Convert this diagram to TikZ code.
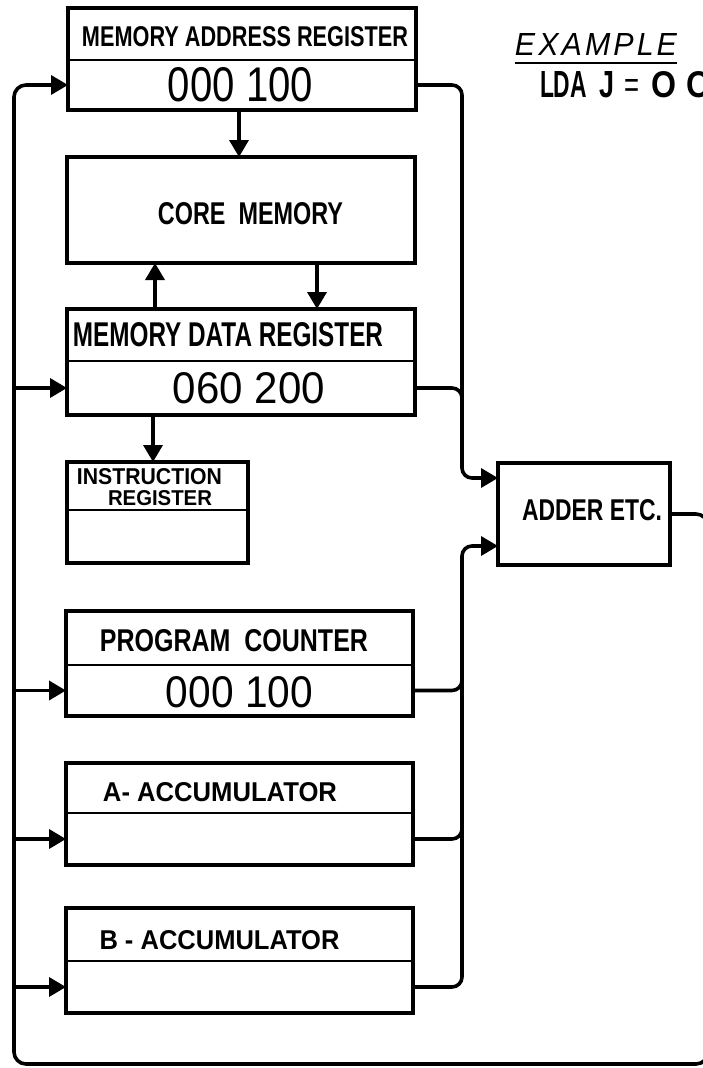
\documentclass[tikz,border=0pt]{standalone}
\usepackage{fontspec}
\setmainfont{Liberation Sans}
\newfontfamily\spacedfont{Liberation Sans}[LetterSpace=10]
\usetikzlibrary{arrows.meta}
% lettering scaled to an exact width and cap height (in pt)
\newcommand\fitto[3]{\resizebox{#1pt}{#2pt}{#3}}

\begin{document}
\begin{tikzpicture}[x=1pt,y=-1pt,
  bus/.style={line width=3.6pt, line join=round},
  arr/.style={-{Triangle[length=17pt,width=19pt]}},
  part/.style={inner sep=0pt, outer sep=0pt},
  boxline/.style={line width=3.4pt},
  divline/.style={line width=1.8pt},
  lbl/.style={inner sep=0pt, outer sep=0pt},
  uline/.style={line width=2.5pt}
]
\path[use as bounding box, clip] (0,0) rectangle (703,1068);
\fill[white] (0,0) rectangle (703,1068);

% ---------- memory address register ----------
\node[part, minimum width=348, minimum height=52] (mar-t) at (242,34) {};
\node[part, minimum width=348, minimum height=50] (mar-v) at (242,85) {};
\draw[boxline] (mar-t.north west) rectangle (mar-v.south east);
\draw[divline] (mar-v.north west) -- (mar-v.north east);
\node[lbl] (mar-name) at (245,37) {\fitto{326}{20}{\bfseries MEMORY ADDRESS REGISTER}};
\node[lbl] (mar-num) at (240.5,85) {\fitto{145}{34}{000 100}};

% ---------- core memory ----------
\node[part, draw, boxline, minimum width=348, minimum height=106] (core) at (241,210) {};
\node[lbl] (core-name) at (250.5,214) {\fitto{185}{22}{\bfseries CORE\ \ MEMORY}};

% ---------- memory data register ----------
\node[part, minimum width=348, minimum height=52] (mdr-t) at (241,335) {};
\node[part, minimum width=348, minimum height=54] (mdr-v) at (241,388) {};
\draw[boxline] (mdr-t.north west) rectangle (mdr-v.south east);
\draw[divline] (mdr-v.north west) -- (mdr-v.north east);
\node[lbl] (mdr-name) at (228,335) {\fitto{310}{24}{\bfseries MEMORY DATA REGISTER}};
\node[lbl] (mdr-num) at (249,388.5) {\fitto{152}{31}{060 200}};

% ---------- instruction register ----------
\node[part, minimum width=181, minimum height=48] (ir-t) at (157.5,486) {};
\node[part, minimum width=181, minimum height=53] (ir-v) at (157.5,536.5) {};
\draw[boxline] (ir-t.north west) rectangle (ir-v.south east);
\draw[divline] (ir-v.north west) -- (ir-v.north east);
\node[lbl] (ir-name1) at (149.5,476.5) {\fitto{145}{16}{\bfseries INSTRUCTION}};
\node[lbl] (ir-name2) at (160,498.5) {\fitto{104}{15}{\bfseries REGISTER}};

% ---------- adder ----------
\node[part, draw, boxline, minimum width=172, minimum height=102] (adder) at (584,514) {};
\node[lbl] (adder-name) at (592,510.5) {\fitto{140}{21}{\bfseries ADDER ETC.}};

% ---------- program counter ----------
\node[part, minimum width=347, minimum height=54] (pc-t) at (239.5,638) {};
\node[part, minimum width=347, minimum height=51] (pc-v) at (239.5,690.5) {};
\draw[boxline] (pc-t.north west) rectangle (pc-v.south east);
\draw[divline] (pc-v.north west) -- (pc-v.north east);
\node[lbl] (pc-name) at (234,641) {\fitto{268}{22}{\bfseries PROGRAM\ \ COUNTER}};
\node[lbl] (pc-num) at (239.5,692.5) {\fitto{147}{31}{000 100}};

% ---------- accumulators ----------
\node[part, minimum width=347, minimum height=50] (acca-t) at (239.5,788) {};
\node[part, minimum width=347, minimum height=52] (acca-v) at (239.5,839) {};
\draw[boxline] (acca-t.north west) rectangle (acca-v.south east);
\draw[divline] (acca-v.north west) -- (acca-v.north east);
\node[lbl] (acca-name) at (220,792) {\fitto{234}{19}{\bfseries A- ACCUMULATOR}};

\node[part, minimum width=347, minimum height=53] (accb-t) at (239.5,934.5) {};
\node[part, minimum width=347, minimum height=52] (accb-v) at (239.5,987) {};
\draw[boxline] (accb-t.north west) rectangle (accb-v.south east);
\draw[divline] (accb-v.north west) -- (accb-v.north east);
\node[lbl] (accb-name) at (219.5,940) {\fitto{240}{19}{\bfseries B - ACCUMULATOR}};

% ---------- example ----------
\node[lbl] (ex) at (596,44) {\fitto{162}{22}{\spacedfont\itshape EXAMPLE}};
\draw[uline] ([yshift=-8pt]ex.south west) -- ([yshift=-8pt]ex.south east);
\node[lbl, anchor=west] (lda) at (540,85) {\fitto{47}{26}{\bfseries LDA}\hspace{12pt}\fitto{15}{26}{\bfseries J}\hspace{10pt}\fitto{15}{18}{=}\hspace{12pt}\fitto{25}{26}{\bfseries O}\hspace{10pt}\fitto{25}{26}{\bfseries O}};

% ---------- bus geometry ----------
\coordinate (lbx) at (14,0);
\coordinate (rbx) at (462,0);
\coordinate (rtx) at (708,0);
\coordinate (boty) at (0,1064);
\coordinate (in1) at (462,478);
\coordinate (in2) at (462,546);

% adder output loops round to the register inputs
\draw[bus, arr, rounded corners=12pt] (adder.east) -- (adder.east -| rtx) -- (rtx |- boty)
  -- (lbx |- boty) -- (lbx |- mar-v.west) -- (mar-v.west);
\foreach \r in {mdr-v, pc-v, acca-v, accb-v}
  \draw[bus, arr] (lbx |- \r.west) -- (\r.west);

% register outputs into the adder
\draw[bus, arr, rounded corners=10pt] (mar-v.east) -- (mar-v.east -| rbx) -- (in1) -- (adder.west |- in1);
\draw[bus, rounded corners=10pt] (mdr-v.east) -- (mdr-v.east -| rbx) -- ++(0,24);
\draw[bus, arr, rounded corners=10pt] (accb-v.east) -- (accb-v.east -| rbx) -- (in2) -- (adder.west |- in2);
\foreach \r in {pc-v, acca-v}
  \draw[bus, rounded corners=10pt] (\r.east) -- (\r.east -| rbx) -- ++(0,-24);

% memory transfers
\coordinate (c1) at ([xshift=-3pt]mar-v.south);
\coordinate (c2) at ([xshift=76pt]core.south);
\coordinate (c3) at ([xshift=-86pt]mdr-t.north);
\coordinate (c4) at ([xshift=-88pt]mdr-v.south);
\draw[bus, arr] (c1) -- (c1 |- core.north);
\draw[bus, arr] (c2) -- (c2 |- mdr-t.north);
\draw[bus, arr] (c3) -- (c3 |- core.south);
\draw[bus, arr] (c4) -- (c4 |- ir-t.north);
\end{tikzpicture}
\end{document}
